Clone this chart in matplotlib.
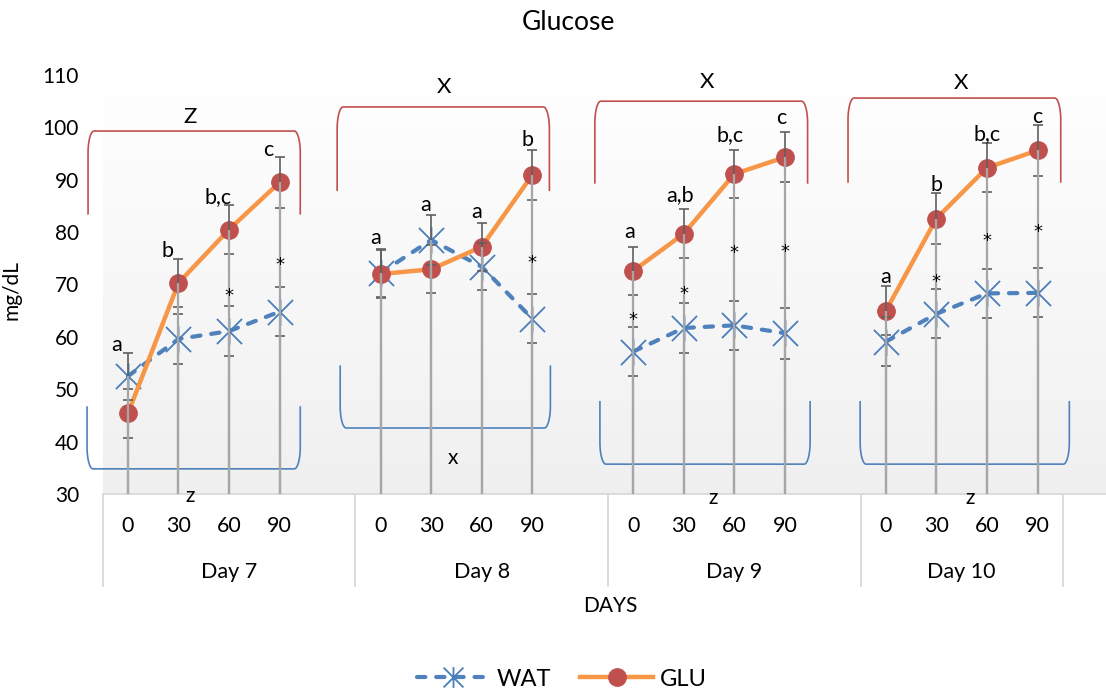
import numpy as np
import matplotlib
matplotlib.use("Agg")
import matplotlib.pyplot as plt
from matplotlib.path import Path
from matplotlib.lines import Line2D
import matplotlib.transforms as mtransforms

plt.rcParams['font.family'] = ['Lato', 'DejaVu Sans']

# ---------------- data ----------------
days = ["Day 7", "Day 8", "Day 9", "Day 10"]
times = ["0", "30", "60", "90"]

wat = [52.5, 59.6, 61.1, 64.8,
       72.2, 78.5, 73.4, 63.5,
       57.2, 61.7, 62.2, 60.7,
       59.1, 64.4, 68.3, 68.4]
wat_err = [4.5, 4.8, 4.7, 4.7,
           4.6, 4.7, 4.5, 4.7,
           4.7, 4.7, 4.7, 4.9,
           4.6, 4.7, 4.7, 4.7]
glu = [45.4, 70.3, 80.5, 89.5,
       72.0, 72.9, 77.2, 90.9,
       72.6, 79.7, 91.1, 94.3,
       65.0, 82.6, 92.3, 95.6]
glu_err = [4.7, 4.6, 4.7, 4.8,
           4.6, 4.6, 4.6, 4.7,
           4.6, 4.7, 4.6, 4.8,
           4.7, 4.8, 4.7, 4.8]

letters = ["a", "b", "b,c", "c",
           "a", "a", "a", "b",
           "a", "a,b", "b,c", "c",
           "a", "b", "b,c", "c"]

# significance stars: (point index, y level)
star_idx = [2, 3, 7, 8, 9, 10, 11, 13, 14, 15]
star_y = [68.8, 74.7, 75.1, 64.2, 69.3, 77.0, 77.2, 71.5, 79.3, 81.0]

# bracket annotations per day
upper_labels = ["Z", "X", "X", "X"]
lower_labels = ["z", "x", "z", "z"]
upper_top = [99.3, 103.9, 105.0, 105.6]
upper_end = [83.5, 88.0, 89.4, 89.6]
lower_bot = [34.8, 42.6, 35.7, 35.7]
lower_end = [46.6, 54.4, 47.6, 47.6]

# ---------------- layout ----------------
W, H = 1106, 692
fig = plt.figure(figsize=(W / 100, H / 100), dpi=100)
ax_left, ax_right = 102.7, 1106
ax_top, ax_bot = 75, 494
ax = fig.add_axes([ax_left / W, 1 - ax_bot / H, (ax_right - ax_left) / W, (ax_bot - ax_top) / H])
cat_px = 50.53
ax.set_xlim(-0.5, -0.5 + (ax_right - ax_left) / cat_px)
ax.set_ylim(30, 110)
px_y = (ax_bot - ax_top) / 80.0

# gradient background
grad = np.linspace(1.0, 0.94, 256).reshape(-1, 1)
grad_rgb = np.dstack([grad, grad, grad])
ax.imshow(grad_rgb, extent=[0, 1, 0, 1], transform=ax.transAxes, aspect='auto', zorder=0)

x_pos = np.array([5 * d + t for d in range(4) for t in range(4)], dtype=float)
wat_a = np.array(wat); glu_a = np.array(glu)
wat_e = np.array(wat_err); glu_e = np.array(glu_err)

star_marker = Path([(-1, -1), (1, 1), (-1, 1), (1, -1), (0, -1.05), (0, 1.05)],
                   [Path.MOVETO, Path.LINETO, Path.MOVETO, Path.LINETO, Path.MOVETO, Path.LINETO])

blue = '#4f81bd'
orange = '#f79646'
red = '#c0504d'

for d in range(4):
    sl = slice(4 * d, 4 * d + 4)
    ax.plot(x_pos[sl], wat_a[sl], color=blue, lw=3.0, linestyle=(0, (2.0, 2.6)),
            dash_capstyle='round', zorder=2)
    ax.plot(x_pos[sl], wat_a[sl], linestyle='none', marker=star_marker, ms=19,
            mec='#4a7ebb', mfc='none', mew=1.3, zorder=2.2)
    ax.plot(x_pos[sl], glu_a[sl], color=orange, lw=3.2, solid_capstyle='round', zorder=2.5)
    ax.plot(x_pos[sl], glu_a[sl], linestyle='none', marker='o', ms=12.5,
            mfc=red, mec=red, zorder=2.7)

# error bars
for vals, errs in ((wat_a, wat_e), (glu_a, glu_e)):
    ax.errorbar(x_pos, vals, yerr=errs, fmt='none', ecolor='#5f5f5f', elinewidth=1.2,
                capsize=3.4, capthick=1.2, zorder=3)

# drop lines
for vals in (wat_a, glu_a):
    ax.vlines(x_pos, 30, vals, colors='#a6a6a6', lw=1.6, zorder=3.5)

# letters above error bars
tops = np.maximum(wat_a + wat_e, glu_a + glu_e)
day_dx = [-0.22, -0.1, -0.08, 0.0]
day_dy = [0.3, 0.9, 1.6, 0.5]
for i, lab in enumerate(letters):
    d = i // 4
    ax.text(x_pos[i] + day_dx[d], tops[i] + day_dy[d], lab, ha='center', va='baseline',
            fontsize=15.5, color='black', zorder=5)

# stars
for i, yv in zip(star_idx, star_y):
    ax.text(x_pos[i], yv - 2.0, '*', ha='center', va='baseline', fontsize=13,
            family='DejaVu Sans', color='black', zorder=5)

# brackets
rx = 6 / cat_px
ry = 22 / px_y
upper_x = [(-0.79, 3.41), (-0.86, 3.34), (-0.76, 3.45), (-0.75, 3.46)]
lower_x = [(-0.81, 3.41), (-0.80, 3.36), (-0.66, 3.50), (-0.51, 3.63)]
upper_lab_pos = [(1.23, 102.0), (6.26, 107.7), (11.46, 108.7), (16.49, 108.5)]
lower_lab_pos = [(1.23, 29.6), (6.43, 36.9), (11.58, 29.2), (16.67, 29.2)]


def bracket(x0, x1, ylev, yend, up):
    s = 1 if up else -1
    th = np.linspace(0, np.pi / 2, 30)
    pts = [(x0, yend)]
    for t in th:
        pts.append((x0 + rx * (1 - np.cos(t)), ylev - s * ry * (1 - np.sin(t))))
    for t in th[::-1]:
        pts.append((x1 - rx * (1 - np.cos(t)), ylev - s * ry * (1 - np.sin(t))))
    pts.append((x1, yend))
    return np.array(pts)


for d in range(4):
    base = 5 * d
    p = bracket(base + upper_x[d][0], base + upper_x[d][1], upper_top[d], upper_end[d], True)
    ax.plot(p[:, 0], p[:, 1], color=red, lw=1.2, zorder=1.5, clip_on=False)
    p = bracket(base + lower_x[d][0], base + lower_x[d][1], lower_bot[d], lower_end[d], False)
    ax.plot(p[:, 0], p[:, 1], color=blue, lw=1.2, zorder=1.5, clip_on=False)
    ax.text(upper_lab_pos[d][0], upper_lab_pos[d][1], upper_labels[d], ha='center', va='center',
            fontsize=16, zorder=5)
    ax.text(lower_lab_pos[d][0], lower_lab_pos[d][1], lower_labels[d], ha='center', va='center',
            fontsize=15, zorder=5, clip_on=False)

# axes styling
ax.set_yticks(np.arange(30, 111, 10))
ax.tick_params(axis='y', length=0, pad=17, labelsize=15)
ax.set_xticks([])
for sp in ('left', 'right', 'top'):
    ax.spines[sp].set_visible(False)
ax.spines['bottom'].set_color('#d9d9d9')
ax.spines['bottom'].set_linewidth(1.3)
ax.spines['bottom'].set_zorder(1)

trans = mtransforms.blended_transform_factory(ax.transData, ax.transAxes)
y_tick = -(526 - ax_bot) / (ax_bot - ax_top)
y_day = -(572 - ax_bot) / (ax_bot - ax_top)
y_sep = -(586 - ax_bot) / (ax_bot - ax_top)
for i in range(16):
    ax.text(x_pos[i], y_tick, times[i % 4], transform=trans, ha='center', va='center',
            fontsize=15.5)
bounds = [-0.5, 4.5, 9.5, 14.5, 18.5]
for d in range(4):
    ax.text((bounds[d] + bounds[d + 1]) / 2, y_day, days[d], transform=trans,
            ha='center', va='center', fontsize=15.5)
for b in bounds:
    ax.plot([b, b], [0, y_sep], transform=trans, color='#d9d9d9', lw=1.3, clip_on=False)

ax.set_ylabel('mg/dL', fontsize=15)
ax.yaxis.set_label_coords(-(ax_left - 22) / (ax_right - ax_left), (ax_bot - 290) / (ax_bot - ax_top))
fig.text(610 / W, 1 - 606 / H, 'DAYS', ha='center', va='center', fontsize=15)
fig.text(568 / W, 1 - 22 / H, 'Glucose', ha='center', va='center', fontsize=19)

# legend
h_wat = Line2D([], [], color=blue, lw=3.0, linestyle=(0, (2.0, 2.6)), dash_capstyle='round',
               marker=star_marker, ms=15, mec='#4a7ebb', mfc='none', mew=1.3)
h_glu = Line2D([], [], color=orange, lw=3.2, marker='o', ms=12.5, mfc=red, mec=red)
fig.legend([h_wat, h_glu], ['WAT', 'GLU'], loc='center', bbox_to_anchor=(562 / W, 1 - 679 / H),
           ncol=2, frameon=False, fontsize=17, handlelength=3.1, handletextpad=0.3,
           columnspacing=1.2)

fig.savefig('out.png', dpi=100)
